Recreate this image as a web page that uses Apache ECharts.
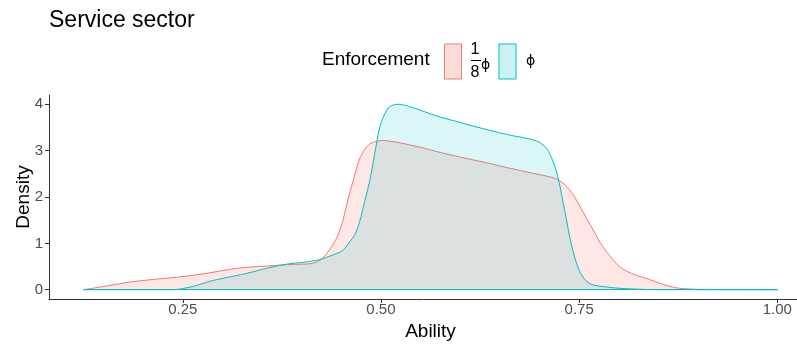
<!DOCTYPE html>
<html>
<head>
<meta charset="utf-8">
<script src="https://cdn.jsdelivr.net/npm/echarts@6/dist/echarts.min.js"></script>
<style>
html,body{margin:0;padding:0;background:#fff;}
#chart{width:797px;height:344px;}
</style>
</head>
<body>
<div id="chart"></div>
<script>
// ---- data ----
const seriesNames = ['1/8 ϕ', 'ϕ'];
const redX = [0.125,0.157,0.183,0.212,0.242,0.271,0.296,0.322,0.355,0.381,0.397,0.414,0.425,0.435,0.445,0.452,0.4584,0.4647,0.471,0.4773,0.4857,0.494,0.5015,0.52,0.55,0.575,0.60,0.63,0.66,0.692,0.7215,0.734,0.7424,0.751,0.7593,0.7677,0.776,0.7846,0.793,0.8014,0.8098,0.8225,0.839,0.8519,0.8645,0.877,0.90,0.95,1.0];
const redY = [0.0,0.09,0.165,0.22,0.27,0.33,0.40,0.47,0.51,0.54,0.55,0.57,0.66,0.86,1.15,1.50,1.95,2.34,2.72,2.97,3.14,3.20,3.22,3.18,3.07,2.96,2.86,2.75,2.63,2.51,2.39,2.23,2.05,1.80,1.54,1.29,1.03,0.82,0.64,0.49,0.40,0.31,0.22,0.14,0.07,0.03,0.01,0.003,0.0];
const cyanX = [0.125,0.20,0.2374,0.2626,0.2837,0.3048,0.33,0.3553,0.3806,0.4058,0.4226,0.4394,0.452,0.4605,0.4668,0.4731,0.4794,0.4857,0.492,0.4984,0.5047,0.511,0.5215,0.5362,0.5699,0.5994,0.6162,0.6583,0.6962,0.7088,0.7172,0.7235,0.732,0.7404,0.751,0.7635,0.7846,0.8014,0.827,0.86,1.0];
const cyanY = [0.0,0.0,0.0,0.07,0.18,0.26,0.35,0.46,0.55,0.60,0.65,0.75,0.85,1.03,1.18,1.47,1.90,2.34,2.92,3.50,3.79,3.95,4.0,3.95,3.75,3.61,3.53,3.35,3.21,3.05,2.76,2.41,1.69,0.96,0.38,0.13,0.06,0.03,0.01,0.0,0.0];
const xTicks = [0.25, 0.50, 0.75, 1.00];
const yTicks = [0, 1, 2, 3, 4];

const lineColors = ['#F8766D', '#00BFC4'];
const fillColors = ['rgba(248,118,109,0.25)', 'rgba(0,191,196,0.2)'];

function pairs(xs, ys){ return xs.map((x,i)=>[x, ys[i]]); }
function baseline(xs, color){
  return {
    silent: true, symbol: 'none', label: {show:false},
    lineStyle: {color: color, width: 1, type: 'solid'},
    emphasis: {disabled: true},
    data: [[{coord:[xs[0],0]},{coord:[xs[xs.length-1],0]}]]
  };
}

const chart = echarts.init(document.getElementById('chart'), null, {renderer:'canvas'});
const font = 'Liberation Sans, Arial, sans-serif';
const phiFont = 'DejaVu Sans, Liberation Sans, sans-serif';

chart.setOption({
  animation: false,
  backgroundColor: '#ffffff',
  title: {
    text: 'Service sector', left: 49, top: 9, padding: 0,
    textStyle: {fontFamily: font, fontSize: 23, fontWeight: 'normal', color: '#000'}
  },
  legend: {
    left: 444, top: 42, padding: 0,
    itemWidth: 17, itemHeight: 35, itemGap: 19,
    icon: 'rect', selectedMode: false,
    data: [
      {name: seriesNames[0], itemStyle: {color: fillColors[0], borderColor: lineColors[0], borderWidth: 1}},
      {name: seriesNames[1], itemStyle: {color: fillColors[1], borderColor: lineColors[1], borderWidth: 1}}
    ],
    formatter: function(name){
      if (name === seriesNames[0]) return '{n|1}\n{n|8}';
      return '{q|ϕ}';
    },
    textStyle: {
      fontFamily: font, color: '#000',
      rich: {
        n: {fontFamily: font, fontSize: 16, color:'#000', width: 13, align: 'right', lineHeight: 23},
        q: {fontFamily: phiFont, fontSize: 14, color:'#000', padding:[0,0,0,5]}
      }
    }
  },
  graphic: [
    {type: 'text', left: 322, top: 50, silent: true,
     style: {text: 'Enforcement', fontFamily: font, fontSize: 19, fill: '#000'}},
    {type: 'line', silent: true, shape: {x1: 471, y1: 60.5, x2: 481, y2: 60.5},
     style: {stroke: '#000', lineWidth: 1}},
    {type: 'text', silent: true, left: 481, top: 58,
     style: {text: 'ϕ', fontFamily: phiFont, fontSize: 14, fill: '#000'}}
  ],
  grid: {left: 49, width: 763, top: 95, bottom: 45, containLabel: false, outerBoundsMode: 'none'},
  xAxis: {
    type: 'value', min: 0.08125, max: 1.04375,
    name: 'Ability', nameLocation: 'middle', nameGap: 16,
    nameTextStyle: {fontFamily: font, fontSize: 19, color: '#000'},
    axisLine: {onZero: false, lineStyle: {color: '#333', width: 1}},
    axisTick: {show: true, length: 4, lineStyle: {color: '#333'}, customValues: xTicks},
    axisLabel: {customValues: xTicks, margin: 3, fontFamily: font, fontSize: 15, color: '#4D4D4D',
      formatter: v => v.toFixed(2)},
    splitLine: {show: false}
  },
  yAxis: {
    type: 'value', min: -0.2, max: 4.2,
    name: 'Density', nameLocation: 'middle', nameGap: 16, nameRotate: 90, nameMoveOverlap: false,
    nameTextStyle: {fontFamily: font, fontSize: 19, color: '#000'},
    axisLine: {show: true, onZero: false, lineStyle: {color: '#333', width: 1}},
    axisTick: {show: true, length: 4, lineStyle: {color: '#333'}, customValues: yTicks},
    axisLabel: {customValues: yTicks, margin: 6, fontFamily: font, fontSize: 15, color: '#4D4D4D'},
    splitLine: {show: false}
  },
  series: [
    {
      name: seriesNames[0], type: 'line', data: pairs(redX, redY),
      smooth: 0.3, symbol: 'none',
      lineStyle: {color: lineColors[0], width: 1},
      itemStyle: {color: lineColors[0]},
      areaStyle: {color: fillColors[0], origin: 0},
      markLine: baseline(redX, lineColors[0]),
      z: 2
    },
    {
      name: seriesNames[1], type: 'line', data: pairs(cyanX, cyanY),
      smooth: 0.3, symbol: 'none',
      lineStyle: {color: lineColors[1], width: 1},
      itemStyle: {color: lineColors[1]},
      areaStyle: {color: fillColors[1], origin: 0},
      markLine: baseline(cyanX, lineColors[1]),
      z: 3
    }
  ]
});
</script>
</body>
</html>
